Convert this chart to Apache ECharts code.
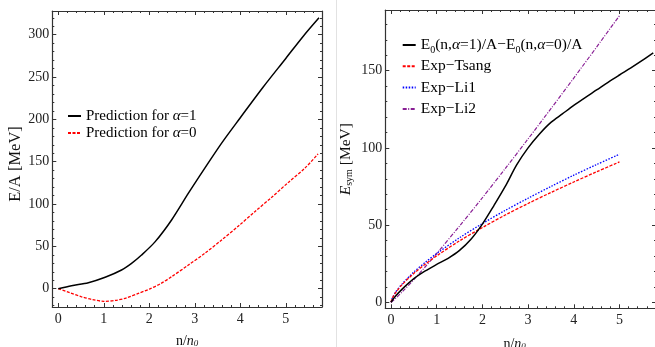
<!DOCTYPE html>
<html><head><meta charset="utf-8">
<script src="https://cdn.jsdelivr.net/npm/echarts@6/dist/echarts.min.js"></script>
<style>html,body{margin:0;padding:0;background:#fff}#c{width:655px;height:347px}</style>
</head><body><div id="c"></div>
<script>
// ---------- Left panel data (E/A vs n/n0) ----------
const leftA1X = [0, 0.29, 0.66, 1.03, 1.39, 1.61, 1.83, 2.13, 2.49, 2.86, 3.22, 3.59, 4.0, 4.5, 5.0, 5.38, 5.73];
const leftA1Y = [0, 3.6, 7.1, 13.5, 22.1, 30, 39.8, 55.6, 81.2, 112.8, 142.4, 172, 202, 238, 272, 298, 320];
const leftA0X = [0, 0.25, 0.5, 0.75, 1.0, 1.25, 1.5, 1.76, 2.0, 2.25, 2.49, 2.86, 3.22, 3.59, 3.96, 4.32, 4.69, 5.05, 5.42, 5.71];
const leftA0Y = [0, -4.7, -9.4, -12.8, -14.9, -13.9, -10.8, -5.5, -0.5, 6, 14.2, 28, 41.8, 57.6, 74.1, 91, 108, 125.3, 142.4, 159.3];

// ---------- Right panel data (E_sym vs n/n0) ----------
const rightDiffX = [0, 0.1, 0.25, 0.5, 0.75, 1.0, 1.25, 1.5, 1.75, 2.0, 2.25, 2.5, 2.75, 3.0, 3.25, 3.5, 3.75, 4.0, 4.25, 4.5, 4.75, 5.0, 5.25, 5.5, 5.74];
const rightDiffY = [0, 4, 8.7, 15.3, 20.3, 24.5, 28.5, 33.6, 40.8, 50.6, 62.5, 75, 89, 100, 109, 116.5, 122, 127.5, 132.6, 137.5, 142.5, 147.2, 151.8, 156.6, 161.5];
const expX     = [0, 0.03, 0.1, 0.25, 0.5, 0.75, 1, 1.5, 2, 2.5, 3, 3.5, 4, 4.5, 5];
const tsangY   = [0, 2.7, 6.2, 11.6, 18.7, 24.7, 30.1, 39.8, 48.4, 56.5, 64.0, 71.1, 77.9, 84.5, 90.9];
const li1Y     = [0, 2.8, 6.5, 12.1, 19.6, 25.9, 31.6, 41.8, 51.0, 59.5, 67.4, 75.0, 82.3, 89.2, 95.9];
const li2Y     = [0, 0.7, 2.5, 6.9, 14.7, 23.0, 31.6, 49.4, 67.7, 86.6, 105.8, 125.4, 145.2, 165.3, 185.6];

// ---------- Tick labels ----------
const leftXTicks  = [0, 1, 2, 3, 4, 5];
const leftYTicks  = [0, 50, 100, 150, 200, 250, 300];
const rightXTicks = [0, 1, 2, 3, 4, 5];
const rightYTicks = [0, 50, 100, 150];

const FONT = 'Liberation Serif';
const FRAME = {color: '#333', width: 1.2};
const TICKSTYLE = {color: '#333', width: 1};

function zip(xs, ys) { return xs.map((x, i) => [x, ys[i]]); }
function minorVals(min, max, step, majors) {
  const out = [];
  for (let k = Math.ceil(min / step - 1e-9); k <= Math.floor(max / step + 1e-9); k++) {
    const v = +(k * step).toFixed(6);
    if (!majors.some(m => Math.abs(m - v) < 1e-9)) out.push(v);
  }
  return out;
}
function axisSet(grid, min, max, majors, minorStep, mainPos, otherPos, labelCfg, nameCfg) {
  const minors = minorVals(min, max, minorStep, majors);
  const base = {type: 'value', gridIndex: grid, min: min, max: max, splitLine: {show: false}};
  return [
    Object.assign({}, base, {position: mainPos,
      axisLine: {show: true, onZero: false, lineStyle: FRAME},
      axisTick: {show: true, inside: true, length: 4, customValues: majors, lineStyle: TICKSTYLE},
      axisLabel: Object.assign({show: true, customValues: majors, fontFamily: FONT, fontSize: 14, color: '#222'}, labelCfg)
    }, nameCfg || {}),
    Object.assign({}, base, {position: mainPos,
      axisLine: {show: false, onZero: false},
      axisTick: {show: true, inside: true, length: 2, customValues: minors, lineStyle: TICKSTYLE},
      axisLabel: {show: false}}),
    Object.assign({}, base, {position: otherPos,
      axisLine: {show: true, onZero: false, lineStyle: FRAME},
      axisTick: {show: true, inside: true, length: 4, customValues: majors, lineStyle: TICKSTYLE},
      axisLabel: {show: false}}),
    Object.assign({}, base, {position: otherPos,
      axisLine: {show: false, onZero: false},
      axisTick: {show: true, inside: true, length: 2, customValues: minors, lineStyle: TICKSTYLE},
      axisLabel: {show: false}})
  ];
}

function richFor(size) {
  return {
    r:   {fontFamily: FONT, fontSize: size, color: '#111'},
    i:   {fontFamily: FONT, fontSize: size, fontStyle: 'italic', color: '#111'},
    sub: {fontFamily: FONT, fontSize: Math.round(size * 0.65), color: '#111', lineHeight: 7, verticalAlign: 'bottom'},
    isub:{fontFamily: FONT, fontSize: Math.round(size * 0.65), fontStyle: 'italic', color: '#111', lineHeight: 7, verticalAlign: 'bottom'}
  };
}

const xNameL = {name: '{r|n/}{i|n}{isub|0}', nameLocation: 'middle', nameGap: 27,
  nameTextStyle: {fontFamily: FONT, fontSize: 14, color: '#111', rich: richFor(14)}};
const xNameR = {name: '{r|n/}{i|n}{isub|0}', nameLocation: 'middle', nameGap: 29,
  nameTextStyle: {fontFamily: FONT, fontSize: 14, color: '#111', rich: richFor(14), padding: [0, 12, 0, 0]}};
const yNameL = {name: '{r|E/A [MeV]}', nameLocation: 'middle', nameGap: 22,
  nameTextStyle: {fontFamily: FONT, fontSize: 16.5, color: '#111', rich: richFor(16.5), padding: [0, 10, 0, 0]}};
const yNameR = {name: '{i|E}{sub|sym}{r| [MeV]}', nameLocation: 'middle', nameGap: 31,
  nameTextStyle: {fontFamily: FONT, fontSize: 15.5, color: '#111', rich: richFor(15.5)}};

const xAxes = [].concat(
  axisSet(0, -0.132, 5.796, leftXTicks, 0.2, 'bottom', 'top', {margin: 5}, xNameL),
  axisSet(1, -0.125, 5.8, rightXTicks, 0.2, 'bottom', 'top', {margin: 5}, xNameR)
);
const yAxes = [].concat(
  axisSet(0, -21.6, 328, leftYTicks, 10, 'left', 'right', {margin: 3}, yNameL),
  axisSet(1, -3.9, 189.3, rightYTicks, 10, 'left', 'right', {margin: 3}, yNameR)
);

function lineSeries(name, data, xi, yi, color, type, width) {
  return {name: name, type: 'line', xAxisIndex: xi, yAxisIndex: yi, data: data,
    showSymbol: false, symbol: 'none', smooth: 0.3,
    lineStyle: {color: color, type: type, width: width}, itemStyle: {color: color}};
}

const nameA1 = 'Prediction for α=1';
const nameA0 = 'Prediction for α=0';
const nameDiff = 'E0(n,α=1)/A−E0(n,α=0)/A';
const nameTs = 'Exp−Tsang', nameL1 = 'Exp−Li1', nameL2 = 'Exp−Li2';

function legendRich(size) {
  return {
    i:   {fontFamily: FONT, fontSize: size, fontStyle: 'italic', color: '#000'},
    sub: {fontFamily: FONT, fontSize: Math.round(size * 0.62), color: '#000', lineHeight: 7, verticalAlign: 'bottom'}
  };
}
function legendFmt(n) {
  if (n === nameDiff) return 'E{sub|0}(n,{i|α}=1)/A−E{sub|0}(n,{i|α}=0)/A';
  return n.replace('α', '{i|α}');
}

const option = {
  animation: false,
  backgroundColor: '#fff',
  grid: [
    {left: 52.3, right: 333, top: 11, bottom: 40, containLabel: false, outerBoundsMode: 'none'},
    {left: 385.3, right: -1, top: 10, bottom: 38.7, containLabel: false, outerBoundsMode: 'none'}
  ],
  xAxis: xAxes,
  yAxis: yAxes,
  legend: [
    {data: [nameA1, nameA0], orient: 'vertical', left: 67, top: 107.5, padding: 0, itemWidth: 13, itemHeight: 8, itemGap: 0,
      formatter: legendFmt, selectedMode: false, itemStyle: {opacity: 0},
      textStyle: {fontFamily: FONT, fontSize: 15, color: '#000', lineHeight: 17, rich: legendRich(15)}},
    {data: [nameDiff, nameTs, nameL1, nameL2], orient: 'vertical', left: 401.7, top: 35, padding: 0, itemWidth: 13, itemHeight: 8, itemGap: 1.3,
      formatter: legendFmt, selectedMode: false, itemStyle: {opacity: 0},
      textStyle: {fontFamily: FONT, fontSize: 15.5, color: '#000', lineHeight: 20, rich: legendRich(15.5)}}
  ],
  graphic: [
    {type: 'line', shape: {x1: 336.5, y1: 0, x2: 336.5, y2: 347}, style: {stroke: '#e2e2e2', lineWidth: 1}, silent: true}
  ],
  series: [
    lineSeries(nameA0, zip(leftA0X, leftA0Y), 0, 0, '#ff0000', [3, 1.5], 1.3),
    lineSeries(nameA1, zip(leftA1X, leftA1Y), 0, 0, '#000000', 'solid', 1.5),
    lineSeries(nameL2, zip(expX, li2Y), 4, 4, '#881e94', [4, 1.5, 1, 1.5], 1.2),
    lineSeries(nameL1, zip(expX, li1Y), 4, 4, '#0000ff', [1.5, 1.5], 1.3),
    lineSeries(nameTs, zip(expX, tsangY), 4, 4, '#ff0000', [3, 1.5], 1.3),
    lineSeries(nameDiff, zip(rightDiffX, rightDiffY), 4, 4, '#000000', 'solid', 1.5)
  ]
};
const chart = echarts.init(document.getElementById('c'), null, {renderer: 'canvas'});
chart.setOption(option);
</script></body></html>
